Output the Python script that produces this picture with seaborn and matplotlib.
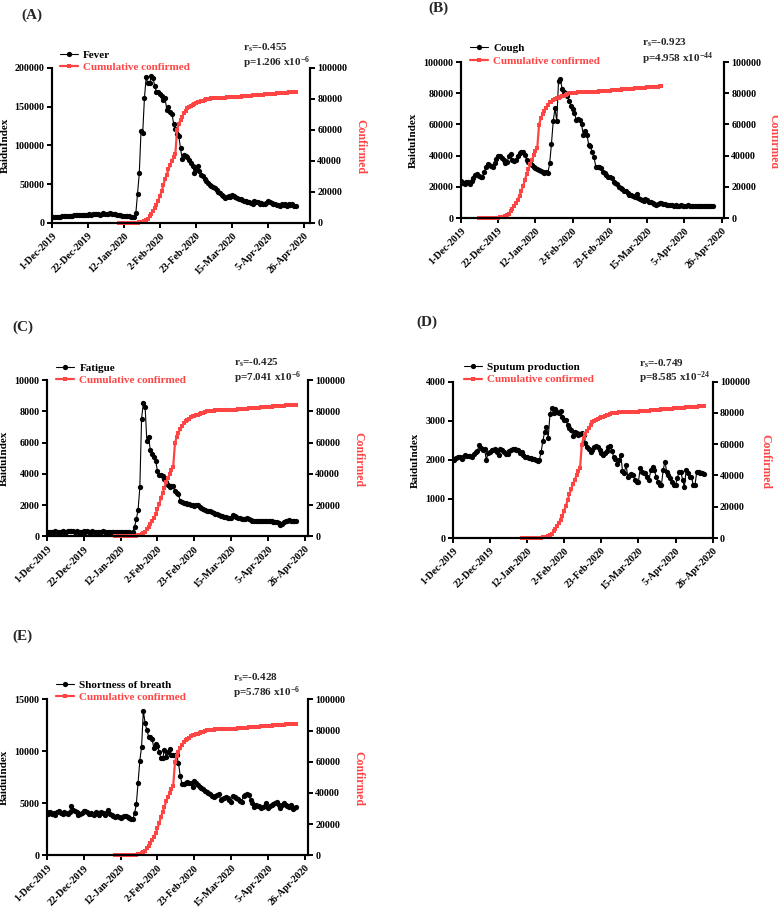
import matplotlib
matplotlib.use("Agg")
import matplotlib.pyplot as plt
from matplotlib.ticker import FuncFormatter
import seaborn as sns
import numpy as np

sns.set_style("ticks")
plt.rcParams['font.family'] = ['Liberation Serif', 'DejaVu Serif']
plt.rcParams['font.weight'] = 'bold'
plt.rcParams['axes.labelweight'] = 'bold'
plt.rcParams['mathtext.fontset'] = 'custom'
plt.rcParams['mathtext.rm'] = 'Liberation Serif:bold'
plt.rcParams['mathtext.bf'] = 'Liberation Serif:bold'
plt.rcParams['mathtext.it'] = 'Liberation Serif:italic:bold'
plt.rcParams['mathtext.default'] = 'rm'

RED = '#FF4444'

date_tick_days = [0, 21, 42, 63, 84, 105, 126, 147]
date_labels = ["1-Dec-2019", "22-Dec-2019", "12-Jan-2020", "2-Feb-2020",
               "23-Feb-2020", "15-Mar-2020", "5-Apr-2020", "26-Apr-2020"]

# Cumulative confirmed cases, daily from 9-Jan-2020 to 21-Apr-2020
confirmed = [
    41, 41, 41, 41, 41, 41, 41, 45, 62, 121, 198, 291, 440, 571, 830,
    1287, 1975, 2744, 4515, 5974, 7711, 9692, 11791,
    14380, 17205, 20438, 24324, 28018, 31161, 34546, 37198, 40171, 42638,
    44653, 59804, 63851, 66492, 68500, 70548, 72436, 74185, 74576, 75465,
    76288, 76936, 77150, 77658, 78064, 78497, 78824, 79251, 79824,
    80026, 80151, 80270, 80409, 80552, 80651, 80695, 80735, 80754, 80778,
    80793, 80813, 80824, 80844, 80860, 81000, 81090, 81210, 81290, 81400,
    81480, 81610, 81730, 81820, 81950, 82040, 82150, 82260, 82340, 82450,
    82520, 82630, 82700, 82810, 82890, 82980, 83060, 83170, 83240, 83350,
    83420, 83530, 83600, 83710, 83780, 83880, 83960, 84050, 84140, 84220,
    84330, 84420,
]

fever = [
    8000, 7600, 7800, 8200, 7400, 8300, 8800,
    8500, 9000, 9600, 9200, 8900, 9500, 9800,
    10200, 9800, 10400, 10800, 10100, 9700, 10500,
    10800, 11200, 10700, 11000, 11500, 12000, 11300,
    10900, 11600, 12300, 11800, 11100, 11900, 12400,
    12100, 11700, 11200, 10800, 10400, 9900, 9600,
    9200, 8800, 9300, 8600, 8100, 7600, 7200,
    12800, 37700, 64000, 118000, 116500, 161000, 187600,
    180000, 180000, 189000, 187000, 176000, 169000, 169000,
    166000, 163000, 159000, 161000, 146000, 150000, 143000,
    141000, 128000, 121000, 114000, 112000, 96400, 82000,
    87000, 86500, 85000, 81000, 77000, 74000, 65000,
    70000, 72800, 66400, 62000, 60000, 57000, 54500,
    52000, 49000, 48000, 47000, 45000, 42000, 40000,
    38500, 36000, 34300, 32000, 33400, 35000, 34000,
    36400, 34500, 33400, 32000, 31300, 30500, 30000,
    28500, 27800, 27000, 26500, 25500, 24800, 27800,
    27000, 26500, 25000, 25700, 24500, 24800, 26000,
    27800, 26500, 25700, 24500, 24800, 23500, 23600,
    22500, 24000, 23500, 24800, 22500, 24000, 23000,
    24800, 22500, 21400,
]

cough = [
    23500, 22500, 22000, 23000, 22800, 22000, 23500,
    25500, 27500, 28500, 27000, 26500, 26000, 29500,
    32500, 34500, 34000, 33500, 33000, 35500, 38000,
    39500, 40000, 38500, 37500, 35500, 36000, 39500,
    41000, 37000, 36500, 37500, 39500, 41500, 42500,
    42000, 40500, 37500, 36000, 35000, 34000, 33000,
    32000, 31500, 30500, 30000, 29500, 29000, 29500,
    29000, 35000, 47500, 62000, 70500, 62000, 88000,
    89000, 83000, 81000, 79000, 78000, 75000, 72000,
    70000, 67000, 63000, 63500, 62500, 60000, 53000,
    56000, 53500, 47000, 46000, 42000, 39000, 33000,
    33000, 32500, 32000, 29500, 29000, 27500, 26500,
    26000, 25500, 23000, 22500, 21500, 20000, 19000,
    18500, 17500, 17000, 16000, 15000, 14500, 14000,
    13500, 15500, 13000, 12000, 11500, 11000, 12000,
    11500, 10500, 10000, 9500, 9200, 8500, 9000,
    9500, 9800, 9200, 8800, 8500, 8300, 8600,
    8200, 8000, 8100, 7900, 8000, 8200, 7800,
    7700, 7900, 8100, 7800, 7600, 7500, 7700,
    7900, 7800, 7600, 7700, 7900, 8000, 7700,
    7600, 7800, 7400,
]

fatigue = [
    280, 260, 290, 300, 270, 310, 300,
    290, 300, 310, 280, 300, 320, 310,
    330, 310, 300, 320, 290, 260, 300,
    310, 290, 320, 300, 280, 310, 290,
    300, 270, 280, 300, 310, 290, 280,
    270, 280, 300, 260, 270, 290, 280,
    260, 280, 270, 260, 250, 270, 240,
    280, 620, 1090, 1690, 3140, 7550, 8550,
    8300, 6100, 6350, 5500, 5300, 5100, 4850,
    4200, 3950, 3900, 3850, 3700, 3500, 3300,
    3150, 3200, 3250, 2900, 2800, 2700, 2250,
    2200, 2150, 2120, 2100, 2050, 2000, 1980,
    1950, 1980, 2000, 1850, 1800, 1750, 1700,
    1650, 1620, 1600, 1550, 1500, 1450, 1400,
    1350, 1300, 1280, 1250, 1220, 1200, 1150,
    1180, 1350, 1300, 1250, 1200, 1150, 1120,
    1100, 1130, 1150, 1100, 1050, 1000, 980,
    950, 980, 1000, 1000, 990, 1000, 1010,
    980, 960, 950, 930, 900, 920, 850,
    750, 820, 900, 950, 1000, 1050, 1000,
    980, 1000, 950,
]

sputum = [
    2010, 2000, 2040, 2080, 2070, 2020, 2080,
    2120, 2100, 2090, 2100, 2080, 2150, 2210,
    2230, 2380, 2300, 2250, 2270, 2000, 2170,
    2210, 2240, 2250, 2270, 2210, 2130, 2270,
    2250, 2200, 2150, 2150, 2230, 2250, 2270,
    2290, 2260, 2250, 2180, 2210, 2120, 2080,
    2070, 2060, 2040, 2020, 2010, 2000, 1970,
    2000, 2200, 2490, 2720, 2850, 2570, 3170,
    3320, 3190, 3290, 3230, 3190, 3260, 3100,
    3020, 3020, 2890, 2810, 2770, 2610, 2720,
    2680, 2640, 2660, 2680, 2640, 2420, 2340,
    2270, 2210, 2250, 2340, 2355, 2340, 2250,
    2180, 2125, 2170, 2235, 2340, 2355, 2235,
    2080, 2010, 1890, 2000, 2125, 1720, 1655,
    1870, 1570, 1610, 1630, 1610, 1485, 1440,
    1440, 1780, 1700, 1655, 1655, 1570, 1485,
    1740, 1825, 1740, 1570, 1440, 1355, 1355,
    1740, 1955, 1700, 1610, 1525, 1440, 1355,
    1355, 1525, 1700, 1700, 1485, 1310, 1740,
    1655, 1570, 1570, 1355, 1355, 1700, 1700,
    1655, 1655, 1640,
]

breath = [
    4130, 4000, 4200, 3950, 4050, 3850, 4150,
    4250, 4100, 4000, 4150, 4050, 3950, 4200,
    4700, 4400, 4300, 4200, 3900, 3950, 4100,
    4300, 4250, 4200, 3950, 4100, 4000, 3850,
    4200, 4100, 3900, 4150, 4050, 3900, 4100,
    4350, 4000, 3850, 3750, 3650, 3750, 3700,
    3600, 3700, 3800, 3750, 3650, 3600, 3500,
    3450, 4040, 4900, 7000, 9100, 10450, 13900,
    12700, 12050, 11400, 11400, 11150, 10300, 10700,
    10500, 9970, 9330, 9330, 10130, 9490, 9970,
    10190, 9650, 9650, 9650, 9600, 8850, 7630,
    6860, 6860, 6920, 7080, 6980, 6920, 6540,
    7180, 6990, 6760, 6540, 6450, 6350, 6220,
    6100, 5960, 5870, 5750, 5640, 5700, 5800,
    5900, 5320, 5380, 5500, 5640, 5480, 5320,
    5160, 5700, 5600, 5540, 5380, 5260, 5160,
    5700, 5800, 5900, 5800, 5320, 5000, 4680,
    4840, 4740, 4740, 4520, 4630, 4740, 5060,
    4520, 4700, 4840, 4940, 5050, 5160, 4840,
    4520, 4800, 5060, 4840, 4760, 4680, 4840,
    4420, 4550, 4680,
]

W, H = 778, 910
fig = plt.figure(figsize=(W / 100, H / 100), dpi=100)


def px_rect(x0, y0, x1, y1):
    return [x0 / W, 1 - y1 / H, (x1 - x0) / W, (y1 - y0) / H]


panels = [
    dict(letter='(A)', lxy=(21, 15), rect=px_rect(51.7, 67.7, 310, 223),
         name='Fever', vals=fever, ymax=200000, ystep=50000, cstart=39, xmax=150.4,
         rs='-0.455', pv='1.206', pe='-6', leg=(0.032, 1.043), st=(0.742, 1.129, 1.032),
         ylx=-0.181, yrx=1.194),
    dict(letter='(B)', lxy=(428, 8), rect=px_rect(461, 62, 724, 218),
         name='Cough', vals=cough, ymax=100000, ystep=20000, cstart=10, xmax=148.3,
         rs='-0.923', pv='4.958', pe='-44', leg=(0.034, 1.049), st=(0.689, 1.124, 1.024),
         ylx=-0.181, yrx=1.187),
    dict(letter='(C)', lxy=(12, 327), rect=px_rect(46.7, 380.3, 308, 536.3),
         name='Fatigue', vals=fatigue, ymax=10000, ystep=2000, cstart=39, xmax=148.7,
         rs='-0.425', pv='7.041', pe='-6', leg=(0.036, 1.04), st=(0.717, 1.115, 1.017),
         ylx=-0.163, yrx=1.193),
    dict(letter='(D)', lxy=(416, 322), rect=px_rect(452.7, 381.7, 712.7, 538),
         name='Sputum production', vals=sputum, ymax=4000, ystep=1000, cstart=39, xmax=147,
         rs='-0.749', pv='8.585', pe='-24', leg=(0.043, 1.054), st=(0.718, 1.118, 1.026),
         ylx=-0.145, yrx=1.201),
    dict(letter='(E)', lxy=(12, 636), rect=px_rect(46.7, 699.3, 308, 855.3),
         name='Shortness of breath', vals=breath, ymax=15000, ystep=5000, cstart=39, xmax=148.7,
         rs='-0.428', pv='5.786', pe='-6', leg=(0.036, 1.052), st=(0.714, 1.135, 1.042),
         ylx=-0.163, yrx=1.193),
]

int_fmt = FuncFormatter(lambda v, p: f'{int(round(v))}')

for P in panels:
    ax = fig.add_axes(P['rect'])
    days = np.arange(len(P['vals']))
    sns.lineplot(x=days, y=P['vals'], ax=ax, color='black', marker='o',
                 markersize=3.8, markeredgewidth=0, linewidth=0.8, legend=False)
    ax2 = ax.twinx()
    cdays = P['cstart'] + np.arange(len(confirmed))
    sns.lineplot(x=cdays, y=confirmed, ax=ax2, color=RED, marker='s',
                 markersize=3.4, markeredgewidth=0, linewidth=1.6, legend=False,
                 clip_on=False)

    ax.set_xlim(0, P['xmax'])
    ax.set_ylim(0, P['ymax'])
    ax2.set_ylim(0, 100000)
    ax.set_yticks(np.arange(0, P['ymax'] + 1, P['ystep']))
    ax2.set_yticks(np.arange(0, 100001, 20000))
    ax.yaxis.set_major_formatter(int_fmt)
    ax2.yaxis.set_major_formatter(int_fmt)
    ax.set_xticks(date_tick_days)
    ax.set_xticklabels(date_labels, rotation=45, ha='right', va='top',
                       rotation_mode='anchor', fontsize=7.5, fontweight='bold')

    for a in (ax, ax2):
        a.spines['top'].set_visible(False)
        for s in ('left', 'right', 'bottom'):
            a.spines[s].set_linewidth(1.5)
            a.spines[s].set_color('black')
        a.tick_params(direction='out', length=3.8, width=1.4, labelsize=7.2,
                      pad=1.5, colors='black')
    ax.tick_params(axis='x', pad=2)

    ax.set_ylabel('BaiduIndex', fontsize=8, fontweight='bold', color='black')
    ax.yaxis.label.set_va('center')
    ax.yaxis.label.set_ha('center')
    ax.yaxis.set_label_coords(P['ylx'], 0.5)
    ax2.set_ylabel('Confirmed', fontsize=8.5, fontweight='bold', color=RED,
                   rotation=270)
    ax2.yaxis.label.set_va('center')
    ax2.yaxis.label.set_ha('center')
    ax2.yaxis.set_label_coords(P['yrx'], 0.49)

    h1 = ax.lines[0]
    h2 = ax2.lines[0]
    leg = ax.legend([h1, h2], [P['name'], 'Cumulative confirmed'], loc='center left',
                    bbox_to_anchor=P['leg'], frameon=False, fontsize=8,
                    handlelength=1.6, handletextpad=0.5, labelspacing=0.25,
                    borderpad=0, borderaxespad=0, numpoints=1)
    for t, c in zip(leg.get_texts(), ['black', RED]):
        t.set_color(c)
        t.set_fontweight('bold')

    sx, sy1, sy2 = P['st']
    ax.text(sx, sy1, r'r$_{s}$=' + P['rs'], transform=ax.transAxes, fontsize=8,
            fontweight='bold', va='center', ha='left')
    ax.text(sx, sy2, 'p=' + P['pv'] + r' x10$^{' + P['pe'] + '}$', transform=ax.transAxes,
            fontsize=8, fontweight='bold', va='center', ha='left')

    fig.text(P['lxy'][0] / W, 1 - P['lxy'][1] / H, P['letter'], fontsize=11,
             fontweight='bold', va='center', ha='left')

fig.savefig('out.png', dpi=100)
